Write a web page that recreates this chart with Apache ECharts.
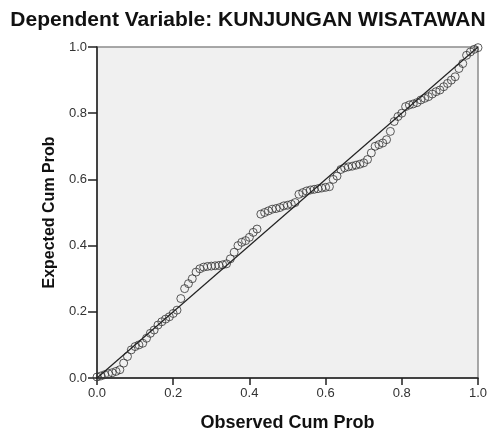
<!DOCTYPE html>
<html>
<head>
<meta charset="utf-8">
<script src="https://cdn.jsdelivr.net/npm/echarts@6/dist/echarts.min.js"></script>
<style>
  html, body { margin: 0; padding: 0; background: #fff; }
  #chart { width: 496px; height: 431px; }
</style>
</head>
<body>
<div id="chart"></div>
<script>
// observed cumulative probability (x) and expected cumulative probability (y)
const observedProb = [
  0.00, 0.01, 0.02, 0.03, 0.04, 0.05, 0.06, 0.07, 0.08, 0.09,
  0.10, 0.11, 0.12, 0.13, 0.14, 0.15, 0.16, 0.17, 0.18, 0.19,
  0.20, 0.21, 0.22, 0.23, 0.24, 0.25, 0.26, 0.27, 0.28, 0.29,
  0.30, 0.31, 0.32, 0.33, 0.34, 0.35, 0.36, 0.37, 0.38, 0.39,
  0.40, 0.41, 0.42, 0.43, 0.44, 0.45, 0.46, 0.47, 0.48, 0.49,
  0.50, 0.51, 0.52, 0.53, 0.54, 0.55, 0.56, 0.57, 0.58, 0.59,
  0.60, 0.61, 0.62, 0.63, 0.64, 0.65, 0.66, 0.67, 0.68, 0.69,
  0.70, 0.71, 0.72, 0.73, 0.74, 0.75, 0.76, 0.77, 0.78, 0.79,
  0.80, 0.81, 0.82, 0.83, 0.84, 0.85, 0.86, 0.87, 0.88, 0.89,
  0.90, 0.91, 0.92, 0.93, 0.94, 0.95, 0.96, 0.97, 0.98, 0.99, 1.00
];
const expectedProb = [
  0.003, 0.006, 0.010, 0.013, 0.016, 0.020, 0.025, 0.045, 0.065, 0.085,
  0.095, 0.100, 0.105, 0.120, 0.135, 0.145, 0.160, 0.170, 0.178, 0.185,
  0.195, 0.205, 0.240, 0.270, 0.285, 0.300, 0.320, 0.330, 0.335, 0.337,
  0.338, 0.339, 0.340, 0.342, 0.345, 0.360, 0.380, 0.400, 0.410, 0.415,
  0.425, 0.440, 0.450, 0.495, 0.500, 0.505, 0.510, 0.512, 0.515, 0.520,
  0.522, 0.525, 0.530, 0.555, 0.560, 0.565, 0.568, 0.570, 0.572, 0.574,
  0.576, 0.578, 0.600, 0.610, 0.630, 0.635, 0.638, 0.640, 0.643, 0.646,
  0.650, 0.660, 0.680, 0.700, 0.705, 0.710, 0.720, 0.745, 0.775, 0.790,
  0.800, 0.820, 0.825, 0.828, 0.832, 0.840, 0.845, 0.850, 0.858, 0.865,
  0.870, 0.880, 0.890, 0.900, 0.910, 0.935, 0.950, 0.975, 0.985, 0.993, 0.998
];
// diagonal reference line
const refLine = [[0, 0], [1, 1]];

const points = observedProb.map((x, i) => [x, expectedProb[i]]);

const chart = echarts.init(document.getElementById('chart'));
chart.setOption({
  animation: false,
  title: {
    text: 'Dependent Variable: KUNJUNGAN WISATAWAN',
    left: 'center',
    top: 5,
    textStyle: { fontFamily: 'Liberation Sans, Arial', fontSize: 21, fontWeight: 'bold', color: '#111' }
  },
  grid: {
    left: 97, right: 18, top: 47, bottom: 53,
    outerBoundsMode: 'none',
    containLabel: false,
    show: true,
    backgroundColor: '#f0f0f0',
    borderColor: '#8c8c8c',
    borderWidth: 1.5
  },
  xAxis: {
    type: 'value',
    min: 0, max: 1, interval: 0.2,
    name: 'Observed Cum Prob',
    nameLocation: 'middle',
    nameGap: 36,
    nameTextStyle: { fontFamily: 'Liberation Sans, Arial', fontSize: 18, fontWeight: 'bold', color: '#111' },
    axisLine: { show: true, lineStyle: { color: '#222', width: 1.5 } },
    axisTick: { show: true, length: 7, lineStyle: { color: '#222', width: 1.5 } },
    axisLabel: {
      fontFamily: 'Liberation Sans, Arial', fontSize: 13, color: '#333', margin: 9,
      formatter: v => v.toFixed(1)
    },
    splitLine: { show: false }
  },
  yAxis: {
    type: 'value',
    min: 0, max: 1, interval: 0.2,
    name: 'Expected Cum Prob',
    nameLocation: 'middle',
    nameGap: 36,
    nameTextStyle: { fontFamily: 'Liberation Sans, Arial', fontSize: 16, fontWeight: 'bold', color: '#111' },
    axisLine: { show: true, lineStyle: { color: '#222', width: 1.5 } },
    axisTick: { show: true, length: 9, lineStyle: { color: '#222', width: 1.5 } },
    axisLabel: {
      fontFamily: 'Liberation Sans, Arial', fontSize: 13, color: '#333', margin: 10,
      formatter: v => v.toFixed(1)
    },
    splitLine: { show: false }
  },
  series: [
    {
      type: 'scatter',
      data: points,
      symbol: 'circle',
      symbolSize: 8,
      itemStyle: { color: 'rgba(0,0,0,0)', borderColor: '#333', borderWidth: 1 },
      z: 2
    },
    {
      type: 'line',
      data: refLine,
      symbol: 'none',
      lineStyle: { color: '#222', width: 1.2 },
      z: 3
    }
  ]
});
</script>
</body>
</html>
